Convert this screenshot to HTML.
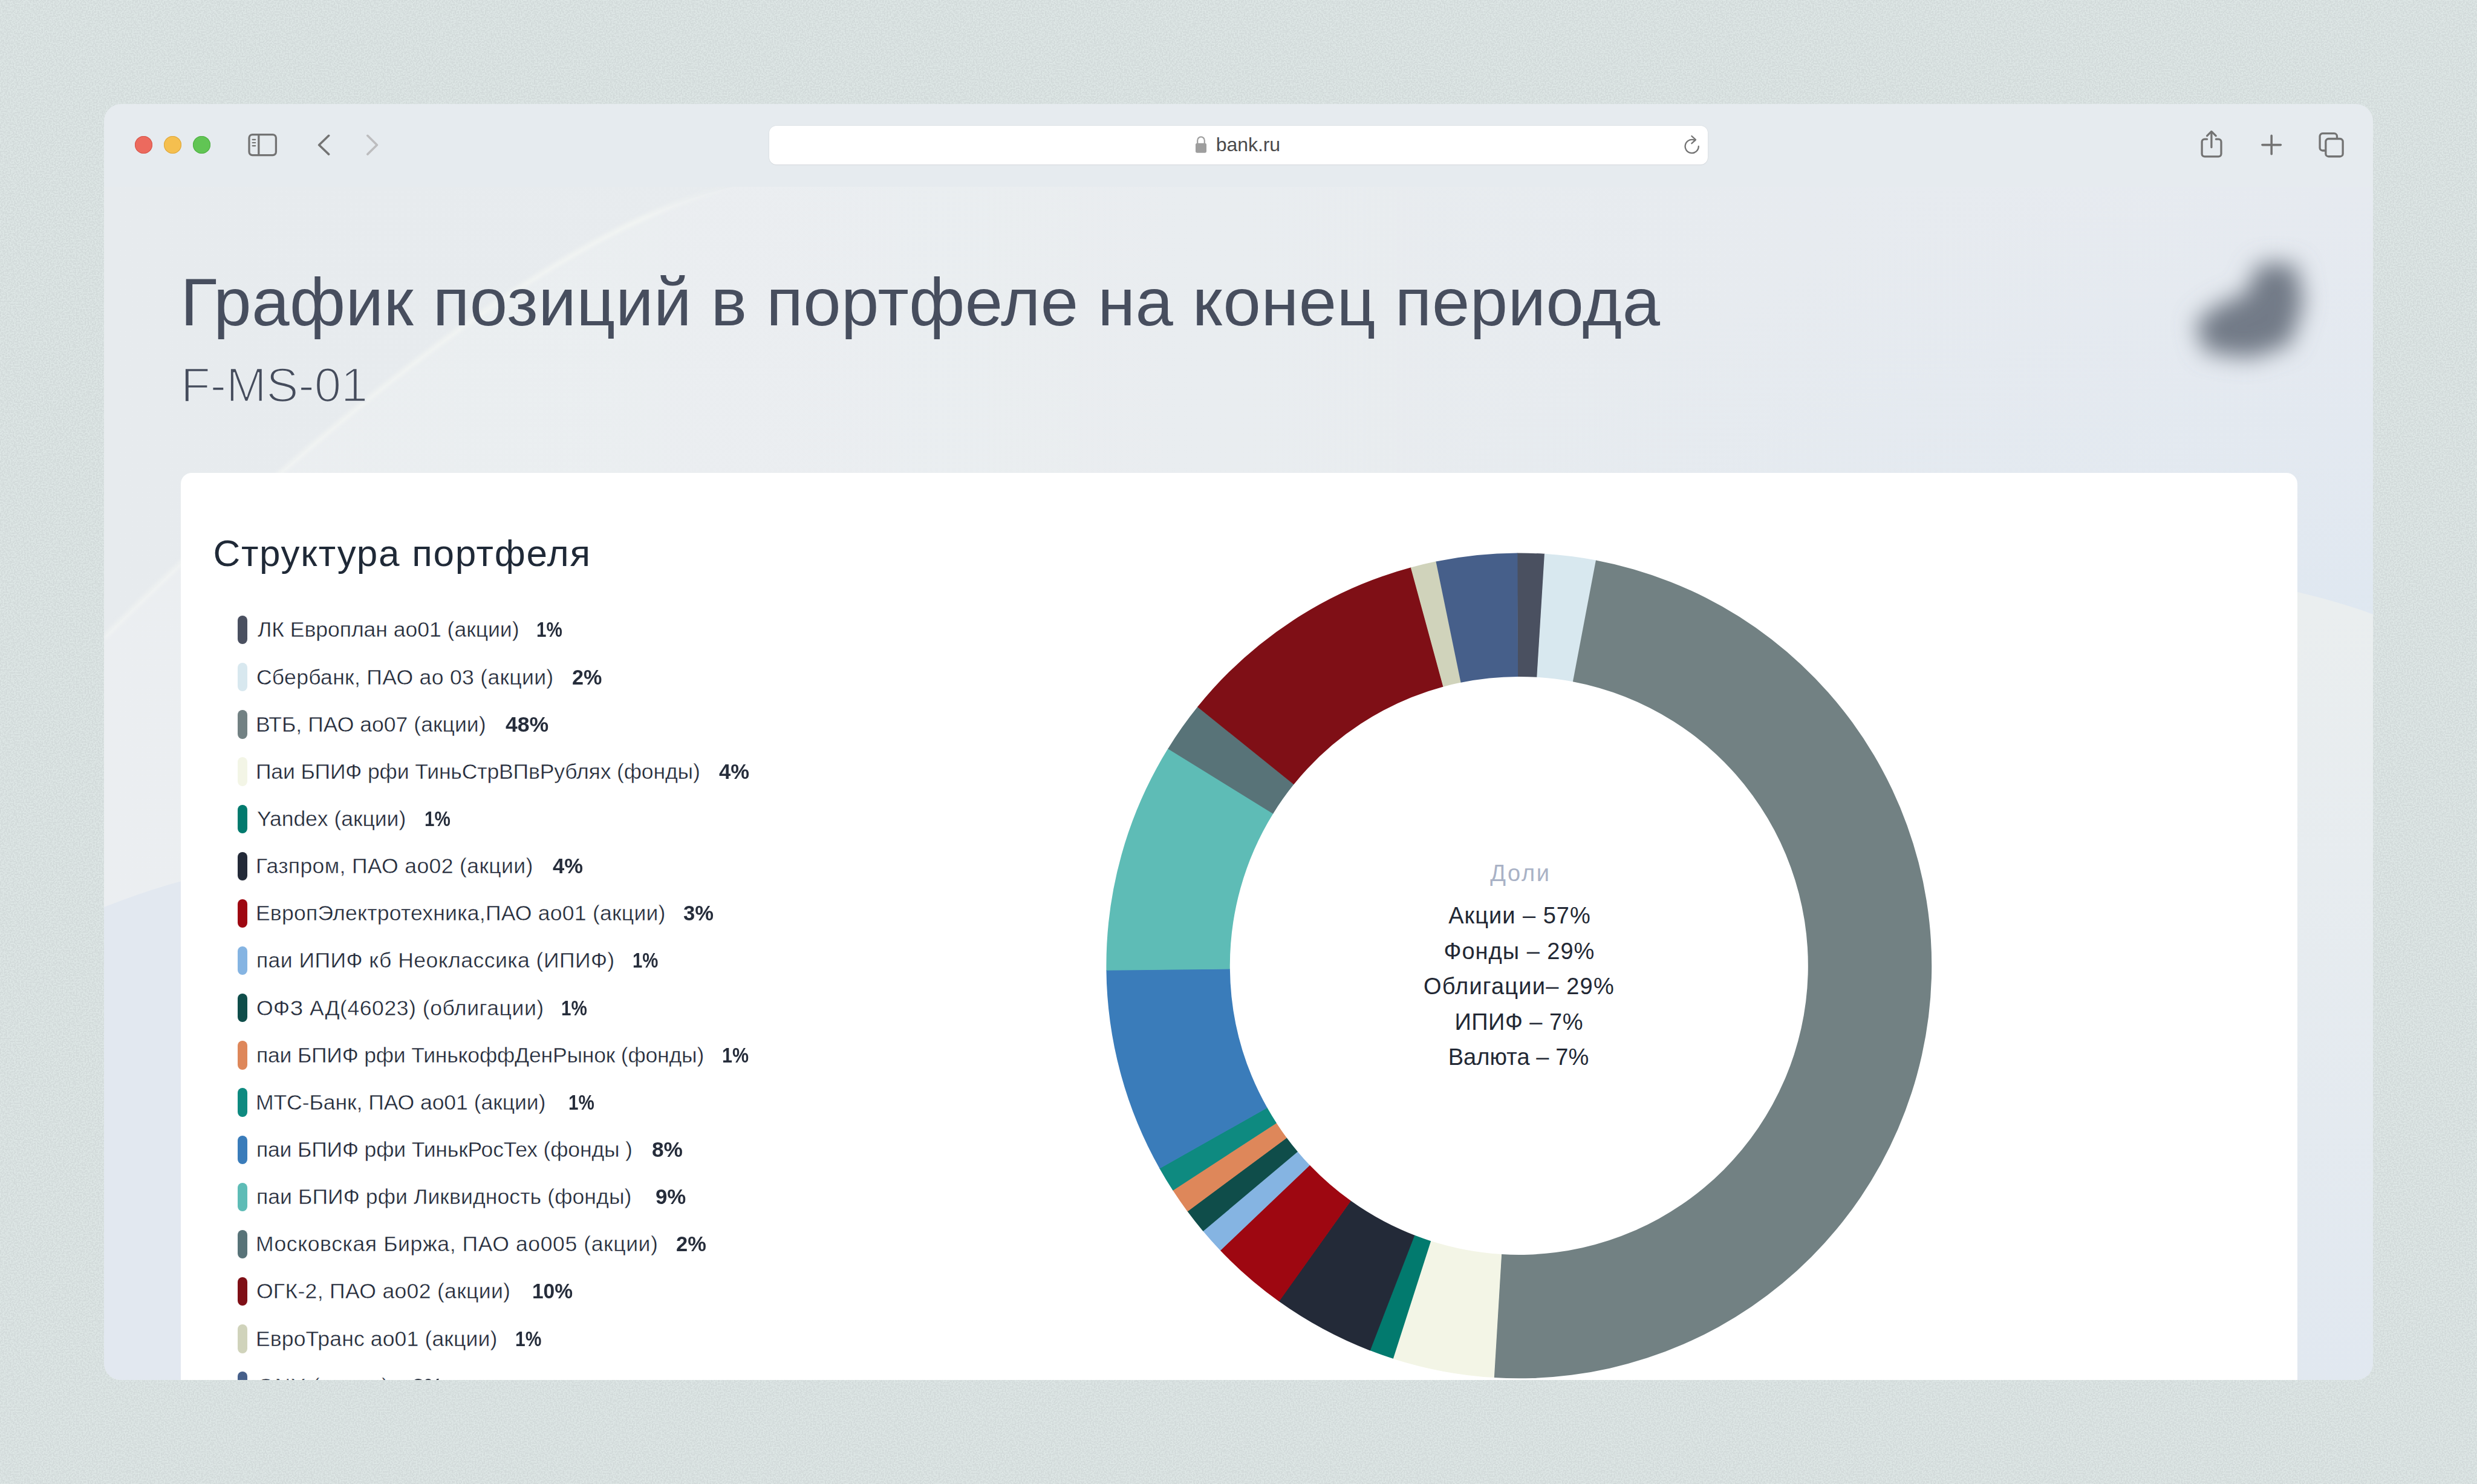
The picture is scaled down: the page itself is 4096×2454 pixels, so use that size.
<!DOCTYPE html>
<html lang="ru">
<head>
<meta charset="utf-8">
<title>bank.ru</title>
<style>
*{box-sizing:border-box;margin:0;padding:0}
html,body{width:4096px;height:2454px;overflow:hidden}
body{background:#D2DADA;font-family:"Liberation Sans",sans-serif;position:relative}
.abs{position:absolute}
#noise{position:absolute;left:0;top:0;width:4096px;height:2454px}
#win{position:absolute;left:172px;top:172px;width:3752px;height:2110px;border-radius:28px;overflow:hidden;background:#E6EBEF}
#pagebg{position:absolute;left:0;top:137px;width:3752px;height:1973px;background:#E7EBEF}
.tl{position:absolute;top:53px;width:29px;height:29px;border-radius:50%}
#url{position:absolute;left:1100px;top:36px;width:1552px;height:63.8px;border-radius:12px;background:#fff;box-shadow:0 0 0 1px rgba(0,0,0,.03),0 1px 1.5px rgba(0,0,0,.05)}
#urltxt{position:absolute;left:1838.7px;top:48.6px;font-size:32px;line-height:36px;color:#4a4a4a;white-space:nowrap;letter-spacing:-0.05px}
#title{position:absolute;left:126.5px;top:258.3px;font-size:112px;line-height:140px;color:#474E5E;white-space:nowrap;transform-origin:0 0}
#sub{position:absolute;left:127px;top:420.3px;font-size:80px;line-height:90px;color:#454c5c;-webkit-text-stroke:2.6px #E8ECEF;white-space:nowrap;transform-origin:0 0}
#card{position:absolute;left:127.4px;top:609.5px;width:3499.2px;height:1600px;border-radius:18px;background:#fff}
#h2{position:absolute;left:53px;top:95.5px;font-size:62px;line-height:76px;color:#1F2937;white-space:nowrap;transform-origin:0 0}
.row{position:absolute;left:94px;height:46px;white-space:nowrap}
.pill{position:absolute;left:-0.2px;top:-0.1px;width:15.4px;height:47.3px;border-radius:8px}
.lbl{position:absolute;left:32px;top:2.4px;font-size:35.5px;line-height:42px;color:#222938;-webkit-text-stroke:0.4px #fff;white-space:nowrap;transform-origin:0 50%}
.pct{position:absolute;top:2.4px;font-size:35.5px;line-height:42px;color:#262D3B;font-weight:bold;white-space:nowrap;transform-origin:0 50%}
.ct{position:absolute;width:800px;left:1812px;text-align:center;font-size:38px;line-height:46px;color:#222834;white-space:nowrap}
</style>
</head>
<body>
<svg id="noise" width="4096" height="2454">
  <filter id="nf" x="0" y="0" width="100%" height="100%" color-interpolation-filters="sRGB">
    <feTurbulence type="fractalNoise" baseFrequency="0.42" numOctaves="2" seed="7" result="t"/>
    <feColorMatrix type="matrix" values="0 0 0 0 0.867  0 0 0 0 0.902  0 0 0 0 0.898  0 0 0 4 -1.5"/>
  </filter>
  <rect width="4096" height="2454" filter="url(#nf)"/>
</svg>
<div id="win">
  <svg class="abs" style="left:0;top:0" width="3752" height="2110" viewBox="0 0 3752 2110">
    <defs>
      <linearGradient id="gbase" x1="0" y1="0" x2="1" y2="0"><stop offset="0" stop-color="#E7EBEE"/><stop offset=".5" stop-color="#E8ECEF"/><stop offset="1" stop-color="#E6EAF0"/></linearGradient>
      <linearGradient id="garc" x1="0" y1="0" x2="2400" y2="0" gradientUnits="userSpaceOnUse"><stop offset="0" stop-color="#fff" stop-opacity=".17"/><stop offset=".5" stop-color="#fff" stop-opacity=".12"/><stop offset="1" stop-color="#fff" stop-opacity="0"/></linearGradient>
      <linearGradient id="gstroke" x1="1040" y1="137" x2="0" y2="882" gradientUnits="userSpaceOnUse"><stop offset="0" stop-color="#F6F8F4" stop-opacity=".0"/><stop offset=".12" stop-color="#F6F8F4" stop-opacity=".75"/><stop offset="1" stop-color="#F6F8F4" stop-opacity=".55"/></linearGradient>
      <radialGradient id="gright" cx="3752" cy="900" r="1" gradientUnits="userSpaceOnUse" gradientTransform="translate(3752 900) scale(1700 760) translate(-3752 -900)"><stop offset="0" stop-color="#DDE7F1" stop-opacity=".85"/><stop offset=".3" stop-color="#DDE7F1" stop-opacity=".45"/><stop offset="1" stop-color="#DDE7F1" stop-opacity="0"/></radialGradient>
      <linearGradient id="gright2" x1="0" y1="840" x2="0" y2="2110" gradientUnits="userSpaceOnUse"><stop offset="0" stop-color="#EAEEEF"/><stop offset="1" stop-color="#E1E8F0"/></linearGradient>
      <filter id="b3" x="-5%" y="-5%" width="110%" height="110%"><feGaussianBlur stdDeviation="3"/></filter>
    </defs>
    <rect x="0" y="137" width="3752" height="1973" fill="url(#gbase)"/>
    <path d="M1040 137C710 210 234 651 0 882V2110H3752V137Z" fill="url(#garc)"/>
    <path d="M1040 137C710 210 234 651 0 882" fill="none" stroke="url(#gstroke)" stroke-width="7" filter="url(#b3)"/>
    <path d="M0 1328C60 1305 100 1292 140 1282V2110H0Z" fill="#E2E8F0"/>
    <rect x="1800" y="137" width="1952" height="1000" fill="url(#gright)"/>
    <path d="M3600 800C3660 815 3710 828 3752 844V2110H3600Z" fill="url(#gright2)"/>
  </svg>
  <div class="tl" style="left:50.7px;background:#EC6A5E;box-shadow:inset 0 0 0 1px #D5554A"></div>
  <div class="tl" style="left:99.1px;background:#F5BF4F;box-shadow:inset 0 0 0 1px #DCA63C"></div>
  <div class="tl" style="left:146.9px;background:#61C554;box-shadow:inset 0 0 0 1px #4FAE43"></div>
  <div id="url"></div>
  <div id="urltxt">bank.ru</div>
  <svg class="abs" style="left:0;top:0" width="3752" height="137" viewBox="0 0 3752 137" fill="none" stroke="#737373" stroke-width="3.3" stroke-linecap="round" stroke-linejoin="round">
    <!-- sidebar -->
    <rect x="240" y="50.6" width="44.4" height="34" rx="5.5"/>
    <line x1="255.8" y1="50.6" x2="255.8" y2="84.6" stroke-linecap="butt"/>
    <g stroke-width="2.2"><line x1="245.6" y1="58.8" x2="250.2" y2="58.8"/><line x1="245.6" y1="64" x2="250.2" y2="64"/><line x1="245.6" y1="69.1" x2="250.2" y2="69.1"/></g>
    <!-- back / forward -->
    <polyline points="371.6,52.3 355.6,67.7 371.6,83.1" stroke-width="3.6"/>
    <polyline points="435.8,52.3 451.4,67.7 435.8,83.1" stroke-width="3.6" stroke="#BDBDBF"/>
    <!-- lock -->
    <g stroke="none" fill="#9E9E9E"><rect x="1805" y="64.7" width="18" height="16" rx="2.6"/></g>
    <path d="M1808.2 65 v-4.8 a5.8 5.8 0 0 1 11.6 0 V65" stroke="#9E9E9E" stroke-width="2.2"/>
    <!-- reload -->
    <path d="M2636.8 69.8 A11.1 11.1 0 1 1 2630.9 60.2" stroke-width="2.3"/>
    <polyline points="2625.4,53 2632,59.2 2625.4,65.2" stroke-width="2.3"/>
    <!-- share -->
    <path d="M3477.6 58.2 h-4 a4.5 4.5 0 0 0 -4.5 4.5 v19.6 a4.5 4.5 0 0 0 4.5 4.5 h22.9 a4.5 4.5 0 0 0 4.5 -4.5 v-19.6 a4.5 4.5 0 0 0 -4.5 -4.5 h-4"/>
    <line x1="3484.9" y1="46" x2="3484.9" y2="71.6"/>
    <polyline points="3477.6,52.6 3484.9,45.4 3492.2,52.6"/>
    <!-- plus -->
    <line x1="3569" y1="67.6" x2="3599.4" y2="67.6" stroke-width="3.6"/>
    <line x1="3584.2" y1="52.4" x2="3584.2" y2="82.8" stroke-width="3.6"/>
    <!-- tabs -->
    <path d="M3672.4 77 h-3.7 a4.6 4.6 0 0 1 -4.6 -4.6 v-19.1 a4.6 4.6 0 0 1 4.6 -4.6 h19.2 a4.6 4.6 0 0 1 4.6 4.6 v3.2"/>
    <rect x="3673.85" y="57.5" width="28.3" height="29.25" rx="4.6"/>
  </svg>
  <div id="title" style="letter-spacing:0.49px">График позиций в портфеле на конец периода</div>
  <div id="sub" style="letter-spacing:-0.3px">F-MS-01</div>
  <svg class="abs" style="left:3350px;top:150px" width="400" height="400" viewBox="3350 150 400 400"><defs><filter id="lb" x="-50%" y="-50%" width="200%" height="200%"><feGaussianBlur stdDeviation="19"/></filter></defs>
    <path filter="url(#lb)" fill="#727A87" d="M3572 262L3625 266L3637 329L3615 397L3550 420L3475 410L3458 362L3495 333L3543 313L3557 274Z"/></svg>
  <div id="card">
<div id="h2" style="letter-spacing:1.74px">Структура портфеля</div>
<div class="row" style="top:236.5px"><i class="pill" style="background:#4A5060"></i><span class="lbl" style="left:32.5px;letter-spacing:-0.008px">ЛК Европлан ао01 (акции)</span><span class="pct" style="left:494.0px;transform:scaleX(0.8328)">1%</span></div>
<div class="row" style="top:314.7px"><i class="pill" style="background:#D8E8EF"></i><span class="lbl" style="left:30.5px;letter-spacing:0.33px">Сбербанк, ПАО ао 03 (акции)</span><span class="pct" style="left:553.0px;transform:scaleX(0.9612)">2%</span></div>
<div class="row" style="top:392.8px"><i class="pill" style="background:#728183"></i><span class="lbl" style="left:29.5px;letter-spacing:0.05px">ВТБ, ПАО ао07 (акции)</span><span class="pct" style="left:442.5px;transform:scaleX(1.003)">48%</span></div>
<div class="row" style="top:471.0px"><i class="pill" style="background:#F3F5E6"></i><span class="lbl" style="left:29.5px;letter-spacing:-0.116px">Паи БПИФ рфи ТиньСтрВПвРублях (фонды)</span><span class="pct" style="left:796.0px;transform:scaleX(0.9739)">4%</span></div>
<div class="row" style="top:549.1px"><i class="pill" style="background:#027A6E"></i><span class="lbl" style="left:31.5px;letter-spacing:-0.015px">Yandex (акции)</span><span class="pct" style="left:309.0px;transform:scaleX(0.8328)">1%</span></div>
<div class="row" style="top:627.2px"><i class="pill" style="background:#232A38"></i><span class="lbl" style="left:29.5px;letter-spacing:0.375px">Газпром, ПАО ао02 (акции)</span><span class="pct" style="left:520.5px;transform:scaleX(0.9727)">4%</span></div>
<div class="row" style="top:705.4px"><i class="pill" style="background:#9E0711"></i><span class="lbl" style="left:29.5px;letter-spacing:0.257px">ЕвропЭлектротехника,ПАО ао01 (акции)</span><span class="pct" style="left:737.0px;transform:scaleX(0.9733)">3%</span></div>
<div class="row" style="top:783.6px"><i class="pill" style="background:#85B4E2"></i><span class="lbl" style="left:30.5px;letter-spacing:0.475px">паи ИПИФ кб Неоклассика (ИПИФ)</span><span class="pct" style="left:653.0px;transform:scaleX(0.8248)">1%</span></div>
<div class="row" style="top:861.7px"><i class="pill" style="background:#0F4D4A"></i><span class="lbl" style="left:30.5px;letter-spacing:0.567px">ОФЗ АД(46023) (облигации)</span><span class="pct" style="left:535.0px;transform:scaleX(0.8329)">1%</span></div>
<div class="row" style="top:939.8px"><i class="pill" style="background:#DE875A"></i><span class="lbl" style="left:30.5px;letter-spacing:-0.167px">паи БПИФ рфи ТинькоффДенРынок (фонды)</span><span class="pct" style="left:800.5px;transform:scaleX(0.8561)">1%</span></div>
<div class="row" style="top:1018.0px"><i class="pill" style="background:#0E8A80"></i><span class="lbl" style="left:29.5px;letter-spacing:-0.032px">МТС-Банк, ПАО ао01 (акции)</span><span class="pct" style="left:546.5px;transform:scaleX(0.8328)">1%</span></div>
<div class="row" style="top:1096.2px"><i class="pill" style="background:#3A7CBA"></i><span class="lbl" style="left:30.5px;letter-spacing:-0.132px">паи БПИФ рфи ТинькРосТех (фонды )</span><span class="pct" style="left:685.0px;transform:scaleX(0.9929)">8%</span></div>
<div class="row" style="top:1174.3px"><i class="pill" style="background:#5EBCB6"></i><span class="lbl" style="left:30.5px;letter-spacing:0.122px">паи БПИФ рфи Ликвидность (фонды)</span><span class="pct" style="left:691.0px;transform:scaleX(0.98)">9%</span></div>
<div class="row" style="top:1252.4px"><i class="pill" style="background:#587378"></i><span class="lbl" style="left:29.5px;letter-spacing:0.618px">Московская Биржа, ПАО ао005 (акции)</span><span class="pct" style="left:725.0px;transform:scaleX(0.9692)">2%</span></div>
<div class="row" style="top:1330.6px"><i class="pill" style="background:#7F0F16"></i><span class="lbl" style="left:30.5px;letter-spacing:0.345px">ОГК-2, ПАО ао02 (акции)</span><span class="pct" style="left:487.0px;transform:scaleX(0.9431)">10%</span></div>
<div class="row" style="top:1408.8px"><i class="pill" style="background:#D0D3BB"></i><span class="lbl" style="left:29.5px;letter-spacing:0.152px">ЕвроТранс ао01 (акции)</span><span class="pct" style="left:459.0px;transform:scaleX(0.8442)">1%</span></div>
<div class="row" style="top:1486.9px"><i class="pill" style="background:#465F8A"></i><span class="lbl" style="left:32.3px;letter-spacing:1.2px">ONY (акции)</span><span class="pct" style="left:289.0px;transform:scaleX(0.9733)">3%</span></div>
<svg class="abs" style="left:0;top:0" width="3499" height="1600" viewBox="0 0 3499 1600">
<path fill="#4A5060" d="M2209.70 132.51A682.4 682.4 0 0 1 2255.65 133.85L2242.81 337.84A478.0 478.0 0 0 0 2210.63 336.90Z"/>
<path fill="#D8E8EF" d="M2254.94 133.80A682.4 682.4 0 0 1 2340.67 144.59L2302.37 345.37A478.0 478.0 0 0 0 2242.31 337.81Z"/>
<path fill="#728183" d="M2339.97 144.45A682.4 682.4 0 0 1 2171.14 1496.03L2183.62 1292.01A478.0 478.0 0 0 0 2301.88 345.27Z"/>
<path fill="#F3F5E6" d="M2171.85 1496.07A682.4 682.4 0 0 1 2004.19 1464.63L2066.68 1270.02A478.0 478.0 0 0 0 2184.12 1292.04Z"/>
<path fill="#027A6E" d="M2004.87 1464.85A682.4 682.4 0 0 1 1966.03 1451.12L2039.94 1260.55A478.0 478.0 0 0 0 2067.15 1270.17Z"/>
<path fill="#232A38" d="M1966.69 1451.38A682.4 682.4 0 0 1 1815.56 1369.76L1934.55 1203.56A478.0 478.0 0 0 0 2040.41 1260.73Z"/>
<path fill="#9E0711" d="M1816.14 1370.18A682.4 682.4 0 0 1 1718.63 1285.50L1866.65 1144.54A478.0 478.0 0 0 0 1934.95 1203.85Z"/>
<path fill="#85B4E2" d="M1719.12 1286.01A682.4 682.4 0 0 1 1690.05 1253.54L1846.63 1122.15A478.0 478.0 0 0 0 1866.99 1144.90Z"/>
<path fill="#0F4D4A" d="M1690.51 1254.09A682.4 682.4 0 0 1 1664.25 1220.81L1828.56 1099.23A478.0 478.0 0 0 0 1846.95 1122.54Z"/>
<path fill="#DE875A" d="M1664.67 1221.38A682.4 682.4 0 0 1 1640.17 1186.06L1811.69 1074.89A478.0 478.0 0 0 0 1828.85 1099.63Z"/>
<path fill="#0E8A80" d="M1640.56 1186.66A682.4 682.4 0 0 1 1618.28 1149.89L1796.36 1049.55A478.0 478.0 0 0 0 1811.96 1075.31Z"/>
<path fill="#3A7CBA" d="M1618.63 1150.52A682.4 682.4 0 0 1 1530.44 822.05L1734.83 819.91A478.0 478.0 0 0 0 1796.61 1049.99Z"/>
<path fill="#5EBCB6" d="M1530.45 822.76A682.4 682.4 0 0 1 1632.65 455.61L1806.42 563.23A478.0 478.0 0 0 0 1734.83 820.41Z"/>
<path fill="#587378" d="M1632.27 456.22A682.4 682.4 0 0 1 1681.58 386.56L1840.70 514.86A478.0 478.0 0 0 0 1806.16 563.65Z"/>
<path fill="#7F0F16" d="M1681.13 387.12A682.4 682.4 0 0 1 2034.46 156.22L2087.88 353.51A478.0 478.0 0 0 0 1840.38 515.25Z"/>
<path fill="#D0D3BB" d="M2033.77 156.40A682.4 682.4 0 0 1 2076.17 146.32L2117.09 346.58A478.0 478.0 0 0 0 2087.39 353.64Z"/>
<path fill="#465F8A" d="M2075.47 146.46A682.4 682.4 0 0 1 2210.42 132.50L2211.13 336.90A478.0 478.0 0 0 0 2116.60 346.68Z"/>
</svg>
<div class="ct" style="top:639.3px;left:1815.1px;letter-spacing:2.6px;color:#A9B2C6">Доли</div>
<div class="ct" style="top:709.5px;left:1813.6px;letter-spacing:1.0px">Акции – 57%</div>
<div class="ct" style="top:768.0px;left:1813.1px;letter-spacing:1.0px">Фонды – 29%</div>
<div class="ct" style="top:826.4px;left:1812.6px;letter-spacing:1.2px">Облигации– 29%</div>
<div class="ct" style="top:885.0px;left:1812.3px;letter-spacing:0.5px">ИПИФ – 7%</div>
<div class="ct" style="top:943.4px;left:1811.6px;letter-spacing:0.1px">Валюта – 7%</div>
</div>
</div>
</body>
</html>
